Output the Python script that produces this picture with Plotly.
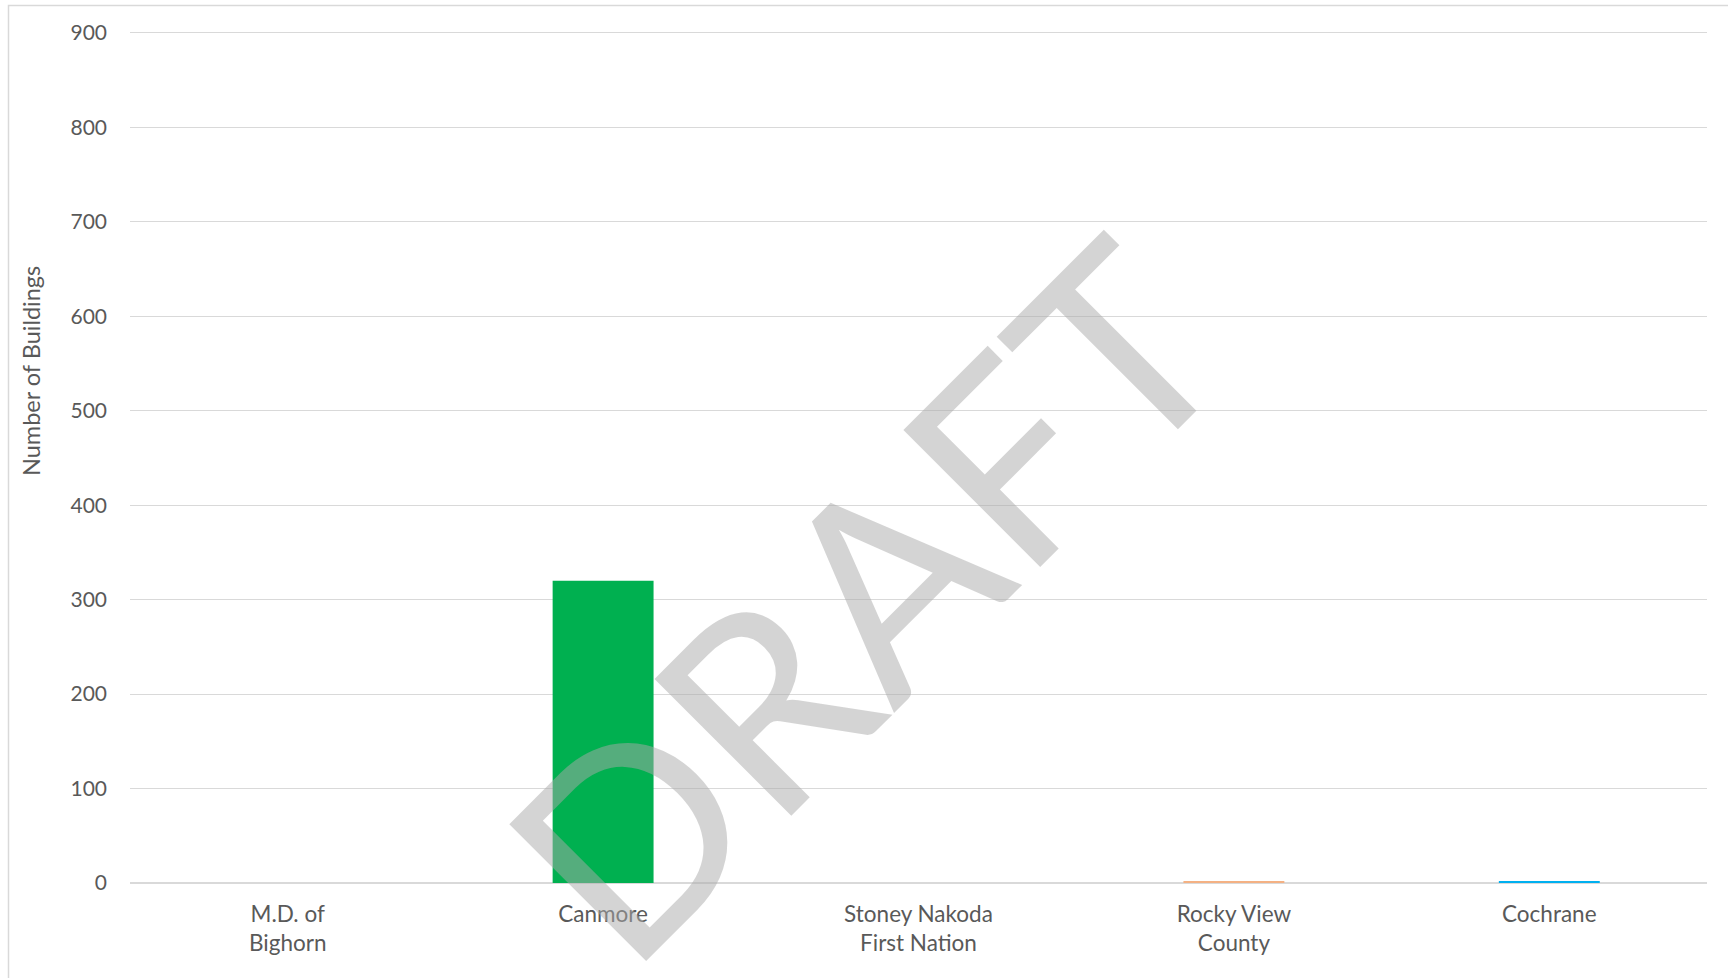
import plotly.graph_objects as go

categories = ["M.D. of<br>Bighorn", "Canmore", "Stoney Nakoda<br>First Nation", "Rocky View<br>County", "Cochrane"]
values = [0, 320, 0, 2, 2]
colors = ["#00B050", "#00B050", "#00B050", "#F4B183", "#00B0F0"]
y_ticks = [0, 100, 200, 300, 400, 500, 600, 700, 800, 900]
y_title = "Number of Buildings"
watermark = "DRAFT"

W, H = 1728, 978
ml, mr, mt, mb = 130, 21, 31, 95
pw, ph = W - ml - mr, H - mt - mb


def px_x(x):
    return (x - ml) / pw


def px_y(y):
    return 1 - (y - mt) / ph


fig = go.Figure(go.Bar(x=categories, y=values, marker_color=colors, marker_line_width=0, width=0.32))

font_color = "#595959"
fig.update_layout(
    width=W, height=H,
    margin=dict(l=ml, r=mr, t=mt, b=mb, autoexpand=False),
    paper_bgcolor="white", plot_bgcolor="white",
    showlegend=False,
    font=dict(family="Lato", size=21, color=font_color),
    xaxis=dict(showgrid=False, showline=False, ticks="", ticklabelstandoff=15,
               tickfont=dict(family="Lato", size=22.5, color=font_color)),
    yaxis=dict(range=[0, 902.1], tickvals=y_ticks, showgrid=True, gridcolor="#d9d9d9", gridwidth=1.3,
               zeroline=True, zerolinecolor="#d9d9d9", zerolinewidth=1.5, showline=False, ticks="",
               ticklabelstandoff=22, tickfont=dict(family="Lato", size=21, color=font_color)),
)

# y axis title (placed as in reference, above plot centre)
fig.add_annotation(text=y_title, xref="paper", yref="paper", x=px_x(31), y=px_y(371),
                   xanchor="center", yanchor="middle", showarrow=False, textangle=-90,
                   font=dict(family="Lato", size=23.5, color=font_color))

# outer chart border
fig.add_shape(type="rect", xref="paper", yref="paper",
              x0=px_x(8.5), x1=px_x(W + 5), y0=px_y(H + 5), y1=px_y(5.5),
              line=dict(color="#d9d9d9", width=1.5), layer="below")

# watermark
fig.add_annotation(text=watermark, xref="paper", yref="paper",
                   x=px_x(862), y=px_y(598),
                   xanchor="center", yanchor="middle", showarrow=False, textangle=-45,
                   font=dict(family="Lato", size=270, color="rgba(170,170,170,0.5)"))

fig.write_html("out.html", config={"displayModeBar": False},
               post_script="document.body.style.margin='0';document.body.style.overflow='hidden';")
